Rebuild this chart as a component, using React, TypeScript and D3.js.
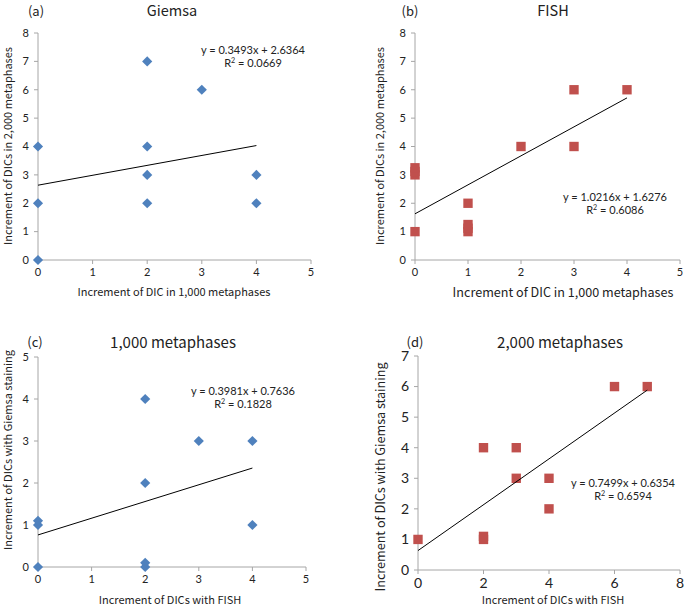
import React from "react";
import * as d3 from "d3";

const aX = [0, 0, 0, 2, 2, 2, 2, 3, 4, 4];
const aY = [0, 2, 4, 2, 3, 4, 7, 6, 2, 3];
const bX = [0, 0, 0, 0, 1, 1, 1, 1, 2, 3, 3, 4];
const bY = [1, 3, 3.12, 3.25, 1, 1.12, 1.25, 2, 4, 4, 6, 6];
const cX = [0, 0, 0, 2, 2, 2, 2, 3, 4, 4];
const cY = [0, 1, 1.1, 0, 0.1, 2, 4, 3, 3, 1];
const dX = [0, 2, 2, 2, 3, 3, 4, 4, 6, 7];
const dY = [1, 1, 1.1, 4, 3, 4, 2, 3, 6, 6];

const aFit = [0.3493, 2.6364];
const bFit = [1.0216, 1.6276];
const cFit = [0.3981, 0.7636];
const dFit = [0.7499, 0.6354];

const aEq = ["y = 0.3493x + 2.6364", "0.0669"];
const bEq = ["y = 1.0216x + 1.6276", "0.6086"];
const cEq = ["y = 0.3981x + 0.7636", "0.1828"];
const dEq = ["y = 0.7499x + 0.6354", "0.6594"];

const xTicksA = [0, 1, 2, 3, 4, 5];
const yTicksA = [0, 1, 2, 3, 4, 5, 6, 7, 8];
const yTicksC = [0, 1, 2, 3, 4, 5];
const xTicksD = [0, 2, 4, 6, 8];
const yTicksD = [0, 1, 2, 3, 4, 5, 6, 7];

const BLUE = "#4F81BD";
const RED = "#C0504D";
const AXIS = "#A6A6A6";
const NUM = "Lato, 'Open Sans', sans-serif";
const JP = "'Noto Sans CJK JP', 'Noto Sans', sans-serif";

type PanelProps = {
  xs: number[]; ys: number[]; fit: number[]; fitMax: number; eq: string[];
  xDom: number[]; yDom: number[]; xTicks: number[]; yTicks: number[];
  box: number[];
  marker: "diamond" | "square"; color: string;
  label: string; labelPos: number[]; title: string; titlePos: number[]; titleSize: number;
  xTitle: string; xTitlePos: number[]; xTitleSize: number;
  yTitle: string; yTitlePos: number[]; yTitleSize: number;
  tickSize: number; eqPos: number[]; eqSize: number;
};

function Panel(p: PanelProps) {
  const [l, r, t, b] = p.box;
  const x = d3.scaleLinear().domain(p.xDom).range([l, r]);
  const y = d3.scaleLinear().domain(p.yDom).range([b, t]);
  const sym = d3.symbol().type(p.marker === "diamond" ? d3.symbolDiamond2 : d3.symbolSquare2).size(p.marker === "diamond" ? 66 : 112);
  const line = d3.line<number>().x((v) => x(v)).y((v) => y(p.fit[0] * v + p.fit[1]));
  return (
    <g>
      <line x1={l} x2={r} y1={b} y2={b} stroke={AXIS} strokeWidth={1} />
      <line x1={l} x2={l} y1={t} y2={b} stroke={AXIS} strokeWidth={1} />
      {p.xTicks.map((v) => (
        <g key={"x" + v}>
          <line x1={x(v)} x2={x(v)} y1={b} y2={b + 4} stroke={AXIS} />
          <text x={x(v)} y={b + 16 + (p.tickSize - 11) * 0.7} textAnchor="middle" fontSize={p.tickSize} fontFamily={NUM} fill="#222">{v}</text>
        </g>
      ))}
      {p.yTicks.map((v) => (
        <g key={"y" + v}>
          <line x1={l - 4} x2={l} y1={y(v)} y2={y(v)} stroke={AXIS} />
          <text x={l - 9} y={y(v)} dy="0.35em" textAnchor="end" fontSize={p.tickSize} fontFamily={NUM} fill="#222">{v}</text>
        </g>
      ))}
      {p.xs.map((xv, i) => (
        <path key={"m" + i} d={sym()!} transform={`translate(${x(xv)},${y(p.ys[i])})`} fill={p.color} />
      ))}
      <path d={line([0, p.fitMax])!} stroke="#000" strokeWidth={1} fill="none" />
      <text x={p.eqPos[0]} y={p.eqPos[1]} textAnchor="middle" fontSize={p.eqSize} fontFamily={NUM} fill="#222">{p.eq[0]}</text>
      <text x={p.eqPos[0]} y={p.eqPos[1] + p.eqSize + 2} textAnchor="middle" fontSize={p.eqSize} fontFamily={NUM} fill="#222">
        R<tspan dy={-4} fontSize={p.eqSize * 0.65}>2</tspan><tspan dy={4}> = {p.eq[1]}</tspan>
      </text>
      <text x={p.labelPos[0]} y={p.labelPos[1]} textAnchor="middle" fontSize={13} fontFamily={JP} fill="#222">{p.label}</text>
      <text x={p.titlePos[0]} y={p.titlePos[1]} textAnchor="middle" fontSize={p.titleSize} fontFamily={JP} fill="#222">{p.title}</text>
      <text x={p.xTitlePos[0]} y={p.xTitlePos[1]} textAnchor="middle" fontSize={p.xTitleSize} fontFamily={JP} fill="#222">{p.xTitle}</text>
      <text transform={`translate(${p.yTitlePos[0]},${p.yTitlePos[1]}) rotate(-90)`} textAnchor="middle" dy="0.35em" fontSize={p.yTitleSize} fontFamily={JP} fill="#222">{p.yTitle}</text>
    </g>
  );
}

export default function App() {
  return (
    <svg width={685} height={608} style={{ position: "absolute", left: 0, top: 0, background: "#fff" }}>
      <rect width={685} height={608} fill="#fff" />
      <Panel xs={aX} ys={aY} fit={aFit} fitMax={4} eq={aEq} xDom={[0, 5]} yDom={[0, 8]}
        xTicks={xTicksA} yTicks={yTicksA} box={[38, 311, 33, 260]} marker="diamond" color={BLUE}
        label="(a)" labelPos={[36, 16]} title="Giemsa" titlePos={[172, 16]} titleSize={14.5}
        xTitle="Increment of DIC in 1,000 metaphases" xTitlePos={[174, 296]} xTitleSize={11}
        yTitle="Increment of DICs in 2,000 metaphases" yTitlePos={[8, 146]} yTitleSize={11}
        tickSize={11} eqPos={[253, 54]} eqSize={11} />
      <Panel xs={bX} ys={bY} fit={bFit} fitMax={4} eq={bEq} xDom={[0, 5]} yDom={[0, 8]}
        xTicks={xTicksA} yTicks={yTicksA} box={[415, 680, 33, 260]} marker="square" color={RED}
        label="(b)" labelPos={[410, 16]} title="FISH" titlePos={[553, 16]} titleSize={14.5}
        xTitle="Increment of DIC in 1,000 metaphases" xTitlePos={[563, 297]} xTitleSize={12.6}
        yTitle="Increment of DICs in 2,000 metaphases" yTitlePos={[380, 146]} yTitleSize={11}
        tickSize={11} eqPos={[615, 201]} eqSize={11} />
      <Panel xs={cX} ys={cY} fit={cFit} fitMax={4} eq={cEq} xDom={[0, 5]} yDom={[0, 5]}
        xTicks={xTicksA} yTicks={yTicksC} box={[38, 306, 357, 567]} marker="diamond" color={BLUE}
        label="(c)" labelPos={[35, 347]} title="1,000 metaphases" titlePos={[173, 348]} titleSize={15}
        xTitle="Increment of DICs with FISH" xTitlePos={[170, 604]} xTitleSize={11}
        yTitle="Increment of DICs with Giemsa staining" yTitlePos={[8, 450]} yTitleSize={11}
        tickSize={11} eqPos={[243, 395]} eqSize={11} />
      <Panel xs={dX} ys={dY} fit={dFit} fitMax={7} eq={dEq} xDom={[0, 8]} yDom={[0, 7]}
        xTicks={xTicksD} yTicks={yTicksD} box={[418, 680, 356, 570]} marker="square" color={RED}
        label="(d)" labelPos={[415, 347]} title="2,000 metaphases" titlePos={[560, 348]} titleSize={15}
        xTitle="Increment of DICs with FISH" xTitlePos={[553, 604]} xTitleSize={11}
        yTitle="Increment of DICs with Giemsa staining" yTitlePos={[381, 477]} yTitleSize={12.6}
        tickSize={14} eqPos={[623, 487]} eqSize={11} />
    </svg>
  );
}
